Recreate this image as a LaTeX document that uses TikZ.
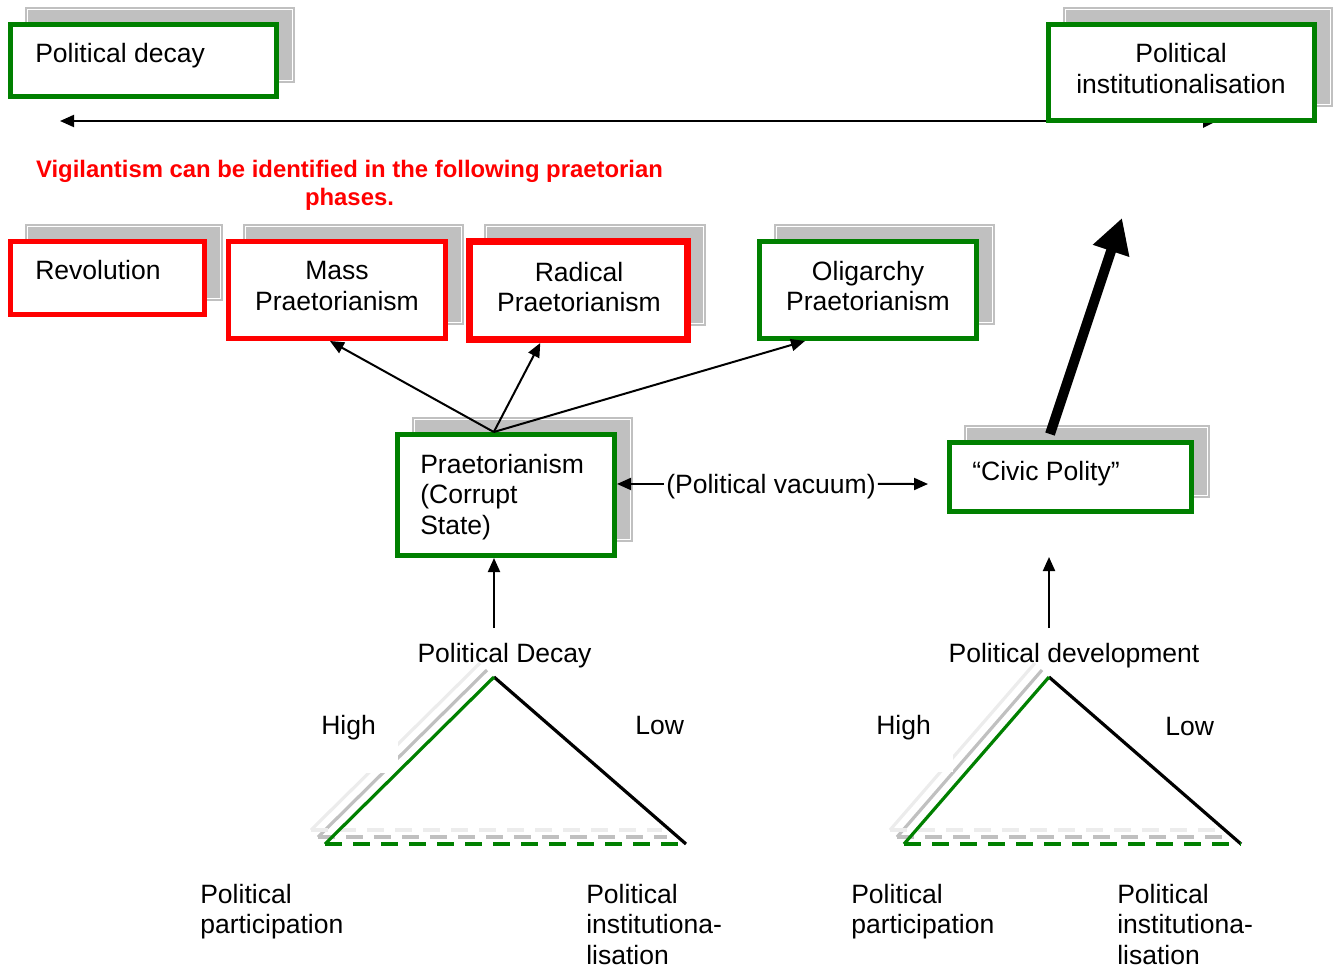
\documentclass[tikz,border=0pt]{standalone}
\usepackage{fontspec}
\setmainfont{Liberation Sans}
\usetikzlibrary{arrows.meta,calc,fit}
\definecolor{pgreen}{HTML}{008000}
\definecolor{pred}{HTML}{FF0000}
\definecolor{shad}{HTML}{C0C0C0}
\definecolor{shadlt}{HTML}{ECECEC}

% grey drop shadow behind a framed box, given the frame's corners
\newcommand\boxshade[4]{%
  \fill[shad] (#1+14,#2-18) rectangle (#3+18,#4-14);
  \draw[white, line width=0.5pt] (#1+16.5,#2-15.5) rectangle (#3+15.5,#4-16.5);
}

\tikzset{
  boxframe/.style={draw, inner sep=0pt, line width=3.75pt, fill=white},
  greenbox/.style={boxframe, draw=pgreen},
  redbox/.style={boxframe, draw=pred},
  lbl/.style={inner sep=0pt, font=\fontsize{19.9}{22.9}\selectfont, execute at begin node=\strut},
  redtxt/.style={inner sep=0pt, text=pred, font=\bfseries\fontsize{17.9}{21}\selectfont, execute at begin node=\strut},
  arr/.style={line width=1.5pt, -{Triangle[length=10.5pt,width=9pt]}},
  bigarr/.style={line width=7.5pt, -{Triangle[length=26pt,width=27pt]}},
  tri/.style={line width=2.4pt},
  tridash/.style={line width=2.4pt, dash pattern=on 12.75pt off 8.25pt},
}

\begin{document}
\begin{tikzpicture}[x=0.75pt,y=-0.75pt]
\useasboundingbox (0,0) rectangle (1337,968);

% long two-headed axis between decay and institutionalisation
\coordinate (axL) at (60,121);
\coordinate (axR) at (1217,121);
\draw[line width=1.5pt, {Triangle[length=10.5pt,width=9pt]}-{Triangle[length=10.5pt,width=10pt]}] (axL) -- (axR);

% top boxes
\boxshade{10.5}{24.5}{276.5}{96.5}
\node[greenbox, fit={(10.5,24.5) (276.5,96.5)}] (PD) {};
\node[lbl, anchor=north west] (tPD) at (35,41.1) {Political decay};

\boxshade{1048.5}{24.5}{1314.5}{120.5}
\node[greenbox, fit={(1048.5,24.5) (1314.5,120.5)}] (PI) {};
\node[lbl, align=center, anchor=north] (tPI) at (1181,43.3) {Political\\institutionalisation};

% note
\node[redtxt, align=center, anchor=north] (vig) at (349.5,160)
  {Vigilantism can be identified in the following praetorian\\phases.};

% praetorian phases
\boxshade{10.5}{241.5}{204.5}{314.5}
\node[redbox, fit={(10.5,241.5) (204.5,314.5)}] (Rev) {};
\node[lbl, anchor=north west] (tRev) at (35,258.1) {Revolution};

\boxshade{228.5}{241.5}{445.5}{338.5}
\node[redbox, fit={(228.5,241.5) (445.5,338.5)}] (Mass) {};
\node[lbl, align=center, anchor=north] (tMass) at (337,261) {Mass\\Praetorianism};

\boxshade{469.5}{241.5}{687.5}{339.5}
\node[redbox, line width=5.25pt, fit={(469.5,241.5) (687.5,339.5)}] (Rad) {};
\node[lbl, align=center, anchor=north] (tRad) at (579,261.5) {Radical\\Praetorianism};

\boxshade{759.5}{241.5}{976.5}{338.5}
\node[greenbox, fit={(759.5,241.5) (976.5,338.5)}] (Oli) {};
\node[lbl, align=center, anchor=north] (tOli) at (868,260.5) {Oligarchy\\Praetorianism};

% praetorianism and civic polity
\boxshade{397.5}{434.5}{614.5}{555.5}
\node[greenbox, fit={(397.5,434.5) (614.5,555.5)}] (Pr) {};
\node[lbl, align=left, anchor=north west] (tPr) at (420,453.5) {Praetorianism\\(Corrupt\\State)};

\boxshade{949.5}{442.5}{1191.5}{511.5}
\node[greenbox, fit={(949.5,442.5) (1191.5,511.5)}] (Civ) {};
\node[lbl, anchor=north west] (tCiv) at (972,459.1) {“Civic Polity”};

% branches out of praetorianism
\coordinate (prTop) at ($(Pr.north west)!0.445!(Pr.north east)$);
\draw[arr] (prTop) -- ($(Mass.south west)!0.468!(Mass.south east)$);
\draw[arr] (prTop) -- ($(Rad.south west)!0.33!(Rad.south east)$);
\draw[arr] (prTop) -- ($(Oli.south west)!0.216!(Oli.south east)$);

% political vacuum
\node[inner sep=0pt, font=\fontsize{19.9}{22.9}\selectfont] (vac) at (771,486.5) {(Political vacuum)};
\coordinate (vacR) at (928,484);
\draw[arr] ([xshift=-1.5pt,yshift=1.9pt]vac.west) -- ([yshift=1.9pt]vac.west -| Pr.east);
\draw[arr] ([xshift=1.5pt,yshift=1.9pt]vac.east) -- (vacR);

% towards institutionalisation
\coordinate (civArr) at (1050,434);
\coordinate (piArr) at (1122,218);
\draw[bigarr] (civArr) -- (piArr);

% left triangle: political decay
\coordinate (La) at (494,677);
\coordinate (Ll) at (325,844);
\coordinate (Lr) at (686,844);
\draw[tri, shadlt] ($(Ll)+(-14,-14)$) -- ($(La)+(-14,-14)$);
\draw[tri, shad] ($(Ll)+(-7,-7)$) -- ($(La)+(-7,-7)$);
\draw[tridash, shadlt] ($(Ll)+(-14,-14)$) -- (662,830);
\draw[tridash, shad] ($(Ll)+(-7,-7)$) -- (667,837);
\fill[white] (296,698) rectangle (398,773);
\draw[tri, black] (La) -- (Lr);
\draw[tri, pgreen] (Ll) -- (La);
\draw[tridash, pgreen] (Ll) -- (Lr);

% right triangle: political development
\coordinate (Ra) at (1049,677);
\coordinate (Rl) at (904,844);
\coordinate (Rr) at (1241,844);
\draw[tri, shadlt] ($(Rl)+(-14,-14)$) -- ($(Ra)+(-14,-14)$);
\draw[tri, shad] ($(Rl)+(-7,-7)$) -- ($(Ra)+(-7,-7)$);
\draw[tridash, shadlt] ($(Rl)+(-14,-14)$) -- (1215,830);
\draw[tridash, shad] ($(Rl)+(-7,-7)$) -- (1223,837);
\fill[white] (852,698) rectangle (953,772);
\draw[tri, black] (Ra) -- (Rr);
\draw[tri, pgreen] (Rl) -- (Ra);
\draw[tridash, pgreen] (Rl) -- (Rr);

% triangle labels
\node[lbl, anchor=north] (pdec) at (504.5,641.1) {Political Decay};
\node[lbl, anchor=north west] (hiL) at (321,713.1) {High};
\node[lbl, anchor=north west] (loL) at (635,713.1) {Low};
\node[lbl, align=left, anchor=north west] (ppL) at (200,883.5) {Political\\participation};
\node[lbl, align=left, anchor=north west] (piL) at (586,883.5) {Political\\institutiona-\\lisation};

\node[lbl, anchor=north] (pdev) at (1074,641.1) {Political development};
\node[lbl, anchor=north west] (hiR) at (876,713.1) {High};
\node[lbl, anchor=north west] (loR) at (1165,714.1) {Low};
\node[lbl, align=left, anchor=north west] (ppR) at (851,883.5) {Political\\participation};
\node[lbl, align=left, anchor=north west] (piR) at (1117,883.5) {Political\\institutiona-\\lisation};

% rising arrows into the two states
\coordinate (dL) at (494,628);
\draw[arr] (dL) -- (dL |- Pr.south);
\coordinate (dR) at (1049,628);
\coordinate (dRt) at (1049,557);
\draw[arr] (dR) -- (dRt);
\end{tikzpicture}
\end{document}
